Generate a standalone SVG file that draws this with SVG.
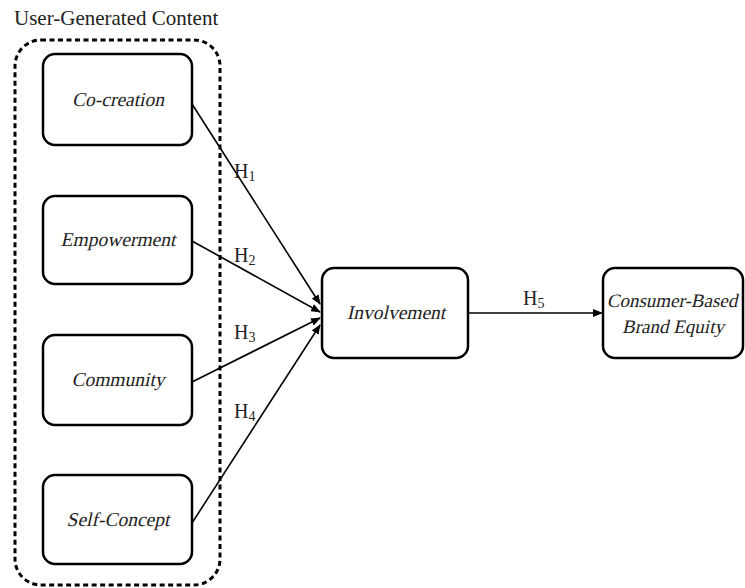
<svg xmlns="http://www.w3.org/2000/svg" width="745" height="588" viewBox="0 0 745 588">
<defs>
<marker id="arr" markerWidth="10" markerHeight="8" refX="9" refY="4" orient="auto" markerUnits="userSpaceOnUse">
<path d="M0,0 L10,4 L0,8 Z" fill="#000"/>
</marker>
<style>
.box{fill:#fff;stroke:#000;stroke-width:2.5}
.t{font-family:"Liberation Serif","Times New Roman",serif;font-size:20px;fill:#222}
.title{font-size:21px}
.i{font-size:19.5px;text-anchor:middle}
.s{font-size:19px}
.c{stroke:#000;stroke-width:1.6;fill:none}
.sub{font-size:14px}
</style>
</defs>
<rect width="745" height="588" fill="#fff"/>
<text class="t title" x="14" y="25">User-Generated Content</text>
<rect x="15" y="40" width="205" height="545" rx="26" fill="none" stroke="#000" stroke-width="3" stroke-dasharray="5,3.5"/>
<g id="connectors">
<line class="c" x1="192" y1="104" x2="320" y2="304" marker-end="url(#arr)"/>
<line class="c" x1="192" y1="241" x2="320" y2="312" marker-end="url(#arr)"/>
<line class="c" x1="192" y1="382" x2="320" y2="318" marker-end="url(#arr)"/>
<line class="c" x1="192" y1="523" x2="320" y2="325" marker-end="url(#arr)"/>
<line class="c" x1="468" y1="313" x2="602" y2="313" marker-end="url(#arr)"/>
<text class="t" x="234" y="178">H<tspan class="sub" dy="3">1</tspan></text>
<text class="t" x="234" y="262">H<tspan class="sub" dy="3">2</tspan></text>
<text class="t" x="234" y="339">H<tspan class="sub" dy="3">3</tspan></text>
<text class="t" x="234" y="418">H<tspan class="sub" dy="3">4</tspan></text>
<text class="t" x="523" y="305">H<tspan class="sub" dy="3">5</tspan></text>
</g>
<g id="cocreation">
<rect class="box" x="43" y="54" width="149" height="91" rx="12"/>
<text class="t i" transform="translate(118,106) skewX(-13)">Co-creation</text>
</g>
<g id="empowerment">
<rect class="box" x="43" y="196" width="149" height="88" rx="12"/>
<text class="t i" transform="translate(118,246) skewX(-13)">Empowerment</text>
</g>
<g id="community">
<rect class="box" x="43" y="335" width="149" height="90" rx="12"/>
<text class="t i" transform="translate(118,386) skewX(-13)">Community</text>
</g>
<g id="selfconcept">
<rect class="box" x="43" y="475" width="149" height="89" rx="12"/>
<text class="t i" transform="translate(118,526) skewX(-13)">Self-Concept</text>
</g>
<g id="involvement">
<rect class="box" x="322" y="268" width="146" height="90" rx="12"/>
<text class="t i" transform="translate(396,319) skewX(-13)">Involvement</text>
</g>
<g id="cbbe">
<rect class="box" x="603" y="268" width="140" height="90" rx="12"/>
<text class="t i s" transform="translate(672,307) skewX(-13)">Consumer-Based</text>
<text class="t i s" transform="translate(673,333) skewX(-13)">Brand Equity</text>
</g>
</svg>
